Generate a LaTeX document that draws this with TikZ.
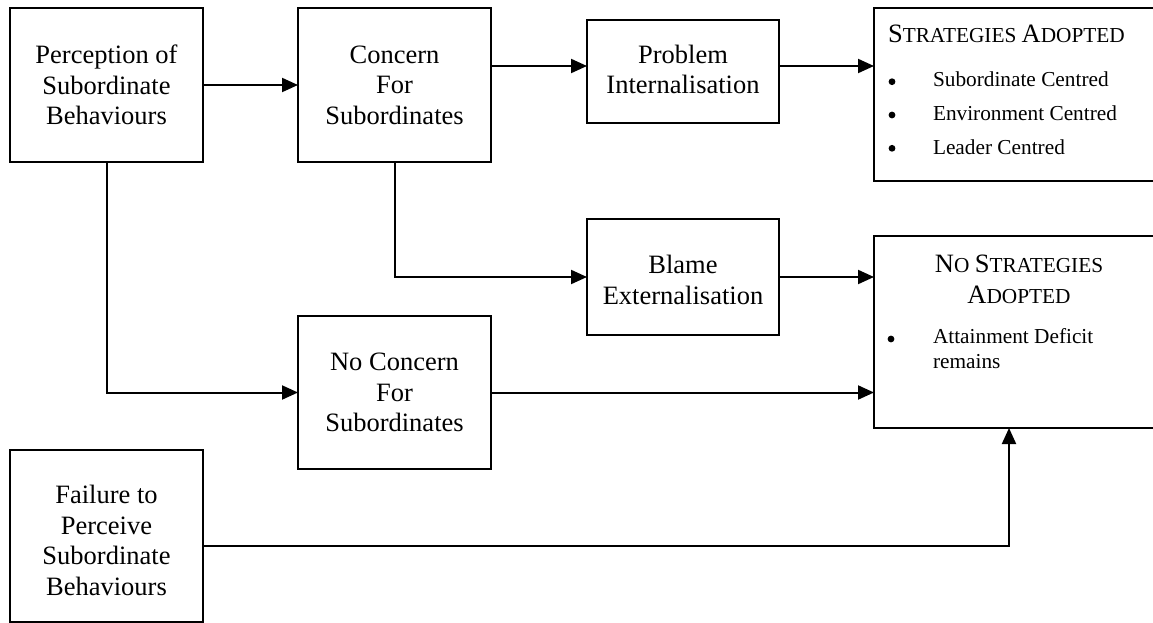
\documentclass[tikz,border=0pt]{standalone}
\usepackage{fontspec}
\setmainfont{Liberation Serif}
\usetikzlibrary{arrows.meta}
\newcommand{\MySc}[2]{{\fontsize{26.5}{30}\selectfont #1}{\fontsize{21.3}{24}\selectfont #2}}
\newcommand{\MyDown}[2]{\raisebox{-#1}[\height][\depth]{\begin{tabular}{@{}c@{}}#2\end{tabular}}}
\begin{document}
\begin{tikzpicture}[x=1pt,y=-1pt,
  box/.style={draw,line width=2pt,inner sep=0pt,outer sep=0pt,align=center,font=\fontsize{26.5}{30.5}\selectfont},
  arr/.style={line width=2pt,-{Triangle[length=16pt,width=14pt]}},
  small/.style={inner sep=0pt,outer sep=0pt,font=\fontsize{21.3}{24.5}\selectfont},
  dot/.style={circle,fill,inner sep=0pt,minimum size=6.8pt}]
\useasboundingbox (0,0) rectangle (1153,623);
\clip (0,0) rectangle (1153,623);
% boxes
\node[box,minimum width=193pt,minimum height=154pt] (perc) at (106.5,85) {Perception of\\Subordinate\\Behaviours};
\node[box,minimum width=193pt,minimum height=154pt] (conc) at (394.5,85) {Concern\\For\\Subordinates};
\node[box,minimum width=192pt,minimum height=103pt] (prob) at (683,71.5) {\MyDown{1pt}{Problem\\Internalisation}};
\node[box,minimum width=291pt,minimum height=173pt] (strat) at (1019.5,94.5) {};
\node[box,minimum width=192pt,minimum height=116pt] (blame) at (683,277) {\MyDown{6pt}{Blame\\Externalisation}};
\node[box,minimum width=291pt,minimum height=192pt] (nostrat) at (1019.5,332) {};
\node[box,minimum width=193pt,minimum height=153pt] (nocon) at (394.5,392.5) {No Concern\\For\\Subordinates};
\node[box,minimum width=193pt,minimum height=172pt] (fail) at (106.5,536) {\MyDown{7.5pt}{Failure to\\Perceive\\Subordinate\\Behaviours}};
% texts of right boxes
\node[small,anchor=base west] (sttitle) at (888,43) {\MySc{S}{TRATEGIES} \MySc{A}{DOPTED}};
\node[dot] (bu1) at (892,81.7) {};
\node[small,anchor=base west] (it1) at (933,87) {Subordinate Centred};
\node[dot] (bu2) at (892,115) {};
\node[small,anchor=base west] (it2) at (933,120.5) {Environment Centred};
\node[dot] (bu3) at (892,148.3) {};
\node[small,anchor=base west] (it3) at (933,154) {Leader Centred};
\node[small,anchor=base] (nst1) at (1019,272) {\MySc{N}{O} \MySc{S}{TRATEGIES}};
\node[small,anchor=base] (nst2) at (1019,303) {\MySc{A}{DOPTED}};
\node[dot] (bu4) at (891,339) {};
\node[small,anchor=north west,align=left] (it4) at (933,328.5) {Attainment Deficit\\remains};
% connectors
\coordinate (r1) at (0,66);
\coordinate (c9) at (1009,546);
\draw[arr] (perc.east) -- (conc.west);
\draw[arr] (conc.east |- r1) -- (prob.west |- r1);
\draw[arr] (prob.east |- r1) -- (strat.west |- r1);
\draw[arr] (conc.south) |- (blame.west);
\draw[arr] (blame.east) -- (nostrat.west |- blame.east);
\draw[arr] (perc.south) |- (nocon.west);
\draw[arr] (nocon.east) -- (nostrat.west |- nocon.east);
\draw[arr] (fail.east |- c9) -- (c9) -- (c9 |- nostrat.south);
\end{tikzpicture}
\end{document}
